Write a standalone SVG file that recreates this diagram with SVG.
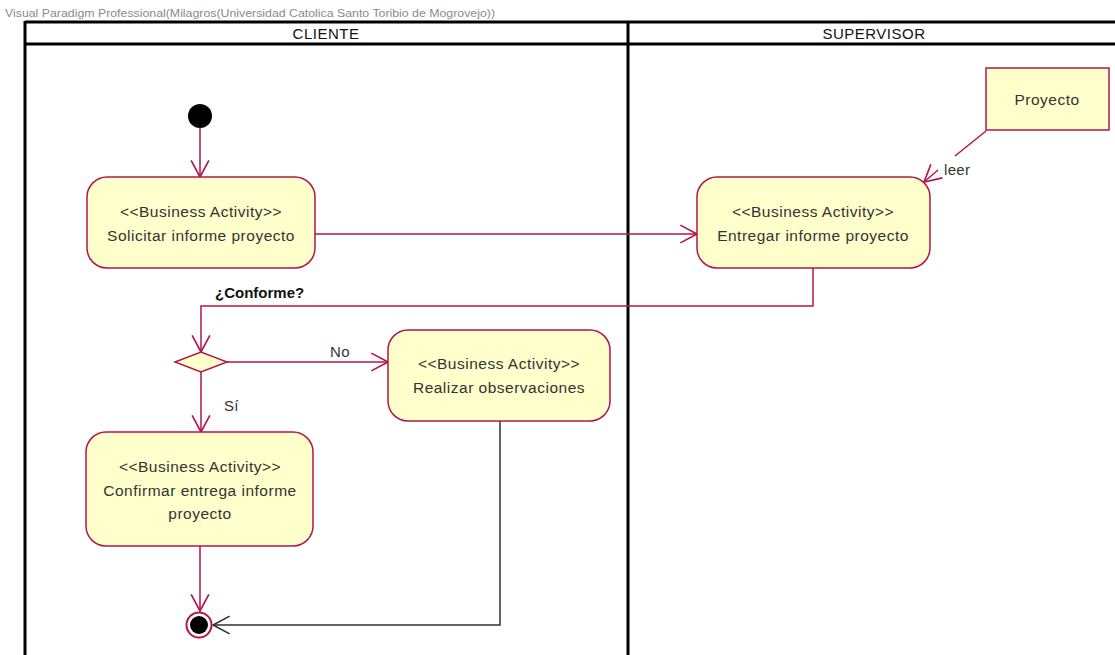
<svg xmlns="http://www.w3.org/2000/svg" width="1115" height="655" viewBox="0 0 1115 655">
<style>
  text { font-family: "Liberation Sans", Arial, sans-serif; fill: #333; }
  .lane { fill: none; stroke: #000; stroke-width: 3; }
  .act { fill: #ffffcc; stroke: #b2164a; stroke-width: 1.5; }
  .nt { font-size: 15.5px; letter-spacing: 0.5px; text-anchor: middle; }
  .hd { font-size: 15px; letter-spacing: 0.5px; text-anchor: middle; fill: #111; }
  .flow { fill: none; stroke: #b2164a; stroke-width: 1.5; }
  .flowd { fill: none; stroke: #333; stroke-width: 1.5; }
  .lbl { font-size: 15px; letter-spacing: 0.3px; }
</style>
<defs>
  <marker id="arr" markerUnits="userSpaceOnUse" markerWidth="20" markerHeight="20" viewBox="-1 -1 18 18" refX="15" refY="8" orient="auto">
    <path d="M0,0 L15,8 L0,16" fill="none" stroke="#b2164a" stroke-width="1.5"/>
  </marker>
  <marker id="arrd" markerUnits="userSpaceOnUse" markerWidth="20" markerHeight="20" viewBox="-1 -1 18 18" refX="15" refY="8" orient="auto">
    <path d="M0,0 L15,8 L0,16" fill="none" stroke="#333" stroke-width="1.5"/>
  </marker>
</defs>
<rect width="1115" height="655" fill="#fff"/>
<text x="5" y="17" font-size="10" fill="#888" style="fill:#8a8a8a" textLength="490" lengthAdjust="spacingAndGlyphs">Visual Paradigm Professional(Milagros(Universidad Catolica Santo Toribio de Mogrovejo))</text>

<g id="swimlanes">
  <line class="lane" x1="25" y1="22" x2="1115" y2="22"/>
  <line class="lane" x1="25" y1="44" x2="1115" y2="44"/>
  <line class="lane" x1="25" y1="21" x2="25" y2="655"/>
  <line class="lane" x1="628" y1="21" x2="628" y2="655"/>
  <text class="hd" x="326" y="39">CLIENTE</text>
  <text class="hd" x="874" y="39">SUPERVISOR</text>
</g>

<g id="connectors">
  <line class="flow" x1="200" y1="128" x2="200" y2="177" marker-end="url(#arr)"/>
  <line class="flow" x1="315" y1="234" x2="697" y2="234" marker-end="url(#arr)"/>
  <polyline class="flow" points="813,268 813,306 201,306 201,352" marker-end="url(#arr)"/>
  <line class="flow" x1="227" y1="362" x2="388" y2="362" marker-end="url(#arr)"/>
  <line class="flow" x1="201" y1="372" x2="201" y2="432" marker-end="url(#arr)"/>
  <line class="flow" x1="200" y1="546" x2="200" y2="611" marker-end="url(#arr)"/>
  <polyline class="flowd" points="500,421 500,625 213,625" marker-end="url(#arrd)"/>
  <line class="flow" x1="986" y1="131" x2="955" y2="156"/>
  <line class="flow" x1="938" y1="170" x2="924" y2="182" marker-end="url(#arr)"/>
  <text class="lbl" x="944" y="175">leer</text>
  <text x="215" y="298" font-size="15" font-weight="bold" style="fill:#111">¿Conforme?</text>
  <text class="lbl" x="330" y="357">No</text>
  <text class="lbl" x="224" y="411">Sí</text>
</g>

<g id="initial">
  <circle cx="200" cy="116" r="12" fill="#000"/>
</g>

<g id="solicitar">
  <rect class="act" x="87" y="177" width="228" height="91" rx="20"/>
  <text class="nt" x="201" y="217">&lt;&lt;Business Activity&gt;&gt;</text>
  <text class="nt" x="201" y="241">Solicitar informe proyecto</text>
</g>

<g id="entregar">
  <rect class="act" x="697" y="177" width="233" height="91" rx="20"/>
  <text class="nt" x="813" y="217">&lt;&lt;Business Activity&gt;&gt;</text>
  <text class="nt" x="813" y="241">Entregar informe proyecto</text>
</g>

<g id="proyecto">
  <rect class="act" x="986" y="68" width="123" height="62"/>
  <text class="nt" x="1047" y="105">Proyecto</text>
</g>

<g id="decision">
  <polygon points="175,362 201,352 227,362 201,372" fill="#ffffcc" stroke="#b2164a" stroke-width="1.5"/>
</g>

<g id="realizar">
  <rect class="act" x="388" y="330" width="222" height="91" rx="20"/>
  <text class="nt" x="499" y="369">&lt;&lt;Business Activity&gt;&gt;</text>
  <text class="nt" x="499" y="393">Realizar observaciones</text>
</g>

<g id="confirmar">
  <rect class="act" x="86" y="432" width="227" height="114" rx="20"/>
  <text class="nt" x="200" y="472">&lt;&lt;Business Activity&gt;&gt;</text>
  <text class="nt" x="200" y="496">Confirmar entrega informe</text>
  <text class="nt" x="200" y="519">proyecto</text>
</g>

<g id="final">
  <circle cx="199" cy="625" r="12.5" fill="#fff" stroke="#b2164a" stroke-width="2"/>
  <circle cx="199" cy="625" r="9" fill="#000"/>
</g>
</svg>
